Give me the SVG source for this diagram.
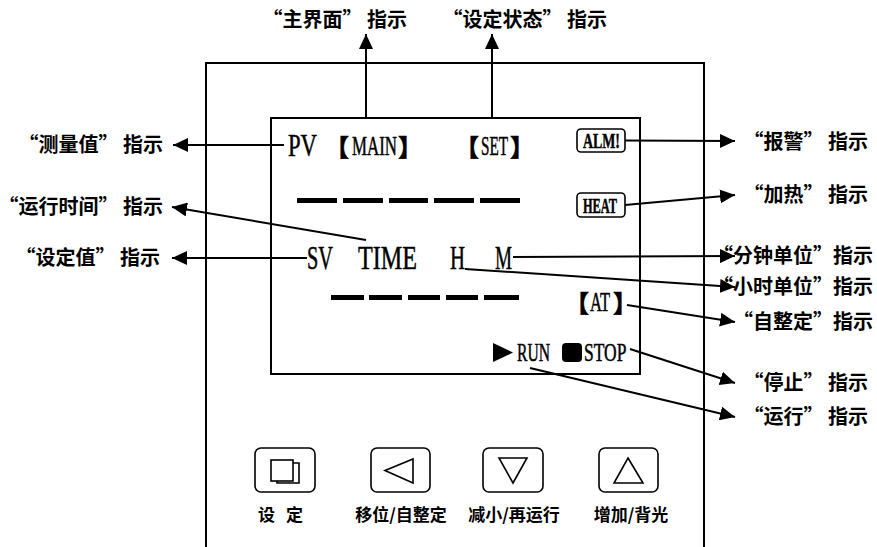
<svg xmlns="http://www.w3.org/2000/svg" width="877" height="547" viewBox="0 0 877 547">
<defs>
<style>
.frame{fill:none;stroke:#000;stroke-width:2}
.ln{fill:none;stroke:#000;stroke-width:2}
.lbl{font-family:"Noto Sans CJK SC","Noto Sans CJK JP",sans-serif;font-weight:bold;font-size:20px;fill:#000}
.blbl{font-family:"Noto Sans CJK SC","Noto Sans CJK JP",sans-serif;font-weight:bold;font-size:17px;fill:#000}
.lcd{font-family:"Liberation Serif",serif;fill:#000;stroke:#000;stroke-width:0.5}
.brk{font-family:"Noto Sans CJK SC","Noto Sans CJK JP",sans-serif;font-weight:900;font-size:24px;fill:#000;stroke:#000;stroke-width:0.6}
.dash{fill:#000}
.btn{fill:#fff;stroke:#000;stroke-width:1.6}
.ico{fill:none;stroke:#000;stroke-width:1.6}
</style>
<marker id="ah" markerUnits="userSpaceOnUse" markerWidth="16" markerHeight="14" refX="15" refY="7" orient="auto">
<path d="M0,0 L15,7 L0,14 z" fill="#000"/>
</marker>
</defs>
<rect width="877" height="547" fill="#fff"/>

<g id="panel">
<path class="frame" d="M206,547 V63 H704 V547"/>
</g>

<g id="display">
<rect class="frame" x="271" y="118" width="369" height="256"/>
<text class="lcd" font-size="31" transform="translate(288,155.5) scale(0.732,1)">PV</text>
<text class="brk" x="325" y="156">【</text>
<text class="lcd" font-size="27" transform="translate(352,155) scale(0.625,1)">MAIN</text>
<text class="brk" x="398" y="156">】</text>
<text class="brk" x="455" y="156">【</text>
<text class="lcd" font-size="27" transform="translate(481,155) scale(0.5625,1)">SET</text>
<text class="brk" x="510" y="156">】</text>
<g id="alm">
<rect x="577" y="129" width="48" height="23" rx="4" fill="none" stroke="#000" stroke-width="1.6"/>
<text class="lcd" font-size="21" font-weight="bold" transform="translate(583,148) scale(0.66,1)">ALM!</text>
</g>
<g id="heat">
<rect x="577" y="193" width="48" height="24" rx="4" fill="none" stroke="#000" stroke-width="1.6"/>
<text class="lcd" font-size="21" font-weight="bold" transform="translate(583,213) scale(0.588,1)">HEAT</text>
</g>
<g id="pvdigits">
<rect class="dash" x="297" y="198" width="40" height="5"/>
<rect class="dash" x="343" y="198" width="40" height="5"/>
<rect class="dash" x="389" y="198" width="39" height="5"/>
<rect class="dash" x="434" y="198" width="40" height="5"/>
<rect class="dash" x="480" y="198" width="40" height="5"/>
</g>
<text class="lcd" font-size="33" transform="translate(307,269) scale(0.616,1)">SV</text>
<text class="lcd" font-size="33" transform="translate(358,269) scale(0.731,1)">TIME</text>
<text class="lcd" font-size="33" transform="translate(450,269) scale(0.63,1)">H</text>
<text class="lcd" font-size="33" transform="translate(495,269) scale(0.58,1)">M</text>
<g id="svdigits">
<rect class="dash" x="331" y="295" width="33" height="5"/>
<rect class="dash" x="369" y="295" width="33" height="5"/>
<rect class="dash" x="408" y="295" width="32" height="5"/>
<rect class="dash" x="446" y="295" width="32" height="5"/>
<rect class="dash" x="484" y="295" width="35" height="5"/>
</g>
<text class="brk" x="565" y="312">【</text>
<text class="lcd" font-size="27" transform="translate(590,311) scale(0.611,1)">AT</text>
<text class="brk" x="613" y="312">】</text>
<polygon points="493,343 513,352.5 493,362" fill="#000"/>
<text class="lcd" font-size="25" transform="translate(517,361) scale(0.625,1)">RUN</text>
<rect x="562" y="343" width="20" height="19" rx="4" fill="#000"/>
<text class="lcd" font-size="25" transform="translate(584,361) scale(0.70,1)">STOP</text>
</g>

<g id="connectors">
<line class="ln" x1="366" y1="118" x2="366" y2="34" marker-end="url(#ah)"/>
<line class="ln" x1="492" y1="118" x2="492" y2="34" marker-end="url(#ah)"/>
<line class="ln" x1="284" y1="145" x2="173" y2="145" marker-end="url(#ah)"/>
<line class="ln" x1="366" y1="240" x2="172" y2="207" marker-end="url(#ah)"/>
<line class="ln" x1="307" y1="258" x2="172" y2="258" marker-end="url(#ah)"/>
<line class="ln" x1="625" y1="140.5" x2="735" y2="141" marker-end="url(#ah)"/>
<line class="ln" x1="625" y1="205" x2="735" y2="195" marker-end="url(#ah)"/>
<line class="ln" x1="513" y1="257" x2="735" y2="256" marker-end="url(#ah)"/>
<line class="ln" x1="465" y1="269" x2="735" y2="287" marker-end="url(#ah)"/>
<line class="ln" x1="627" y1="305" x2="735" y2="322" marker-end="url(#ah)"/>
<line class="ln" x1="630" y1="349" x2="735" y2="383" marker-end="url(#ah)"/>
<line class="ln" x1="530" y1="368" x2="735" y2="417" marker-end="url(#ah)"/>
</g>

<g id="labels">
<text class="lbl" x="407" y="27" text-anchor="end">“主界面” 指示</text>
<text class="lbl" x="607" y="27" text-anchor="end">“设定状态” 指示</text>
<text class="lbl" x="163" y="152" text-anchor="end">“测量值” 指示</text>
<text class="lbl" x="163" y="214" text-anchor="end">“运行时间” 指示</text>
<text class="lbl" x="160" y="265" text-anchor="end">“设定值” 指示</text>
<text class="lbl" x="868" y="149" text-anchor="end">“报警” 指示</text>
<text class="lbl" x="868" y="202" text-anchor="end">“加热” 指示</text>
<text class="lbl" x="873" y="262.5" text-anchor="end" font-size="18">“分钟单位”指示</text>
<text class="lbl" x="873" y="293.5" text-anchor="end" font-size="18">“小时单位”指示</text>
<text class="lbl" x="873" y="329" text-anchor="end">“自整定”指示</text>
<text class="lbl" x="868" y="390" text-anchor="end">“停止” 指示</text>
<text class="lbl" x="868" y="424" text-anchor="end">“运行” 指示</text>
</g>

<g id="btn-set">
<rect class="btn" x="255" y="448" width="60" height="44" rx="6"/>
<path class="ico" d="M293,463 H299 V483 H277 V481"/>
<rect class="ico" x="271" y="460" width="22" height="21"/>
<text class="blbl" x="258" y="521">设</text>
<text class="blbl" x="286" y="521">定</text>
</g>
<g id="btn-shift">
<rect class="btn" x="371" y="448" width="59" height="44" rx="6"/>
<polygon class="ico" points="385,470.5 413,459 413,483"/>
<text class="blbl" x="401" y="521" text-anchor="middle">移位/自整定</text>
</g>
<g id="btn-down">
<rect class="btn" x="483" y="448" width="60" height="44" rx="6"/>
<polygon class="ico" points="499,458 527,458 513,483"/>
<text class="blbl" x="514" y="521" text-anchor="middle">减小/再运行</text>
</g>
<g id="btn-up">
<rect class="btn" x="599" y="448" width="59" height="44" rx="6"/>
<polygon class="ico" points="628,458 643,483 614,483"/>
<text class="blbl" x="631" y="521" text-anchor="middle">增加/背光</text>
</g>
</svg>
